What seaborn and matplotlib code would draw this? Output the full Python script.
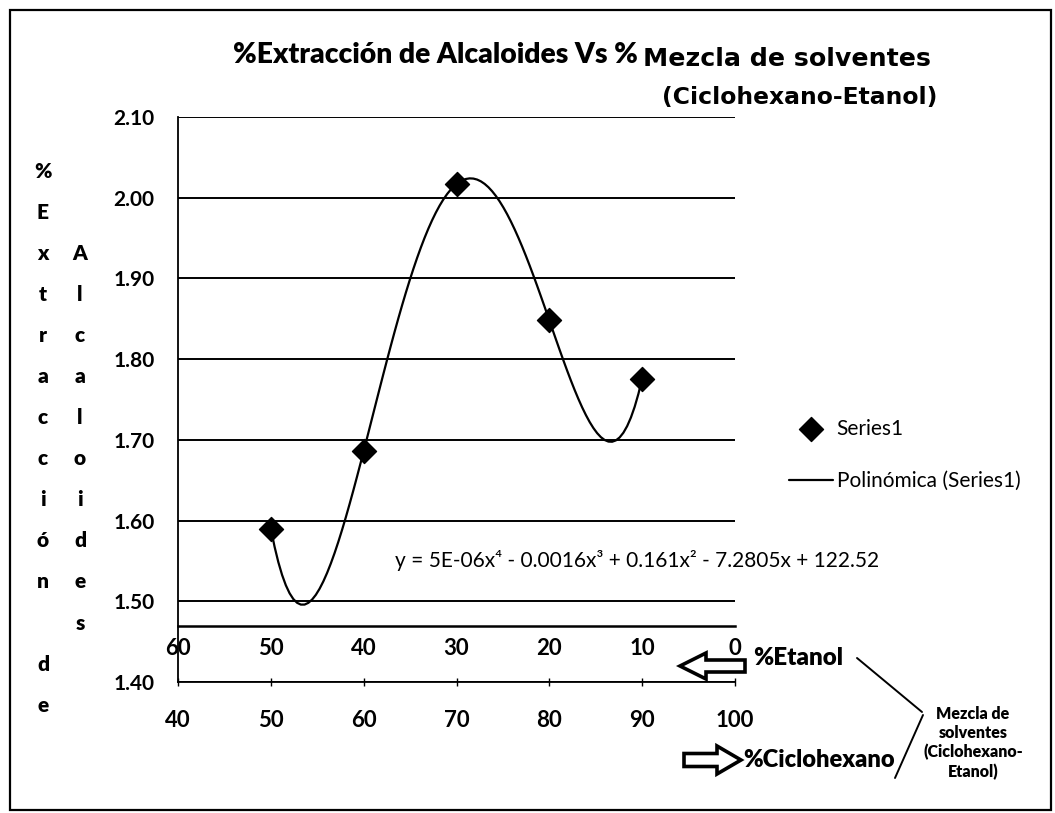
import numpy as np
import pandas as pd
import seaborn as sns
import matplotlib
matplotlib.use("Agg")
import matplotlib.pyplot as plt
from matplotlib.patches import FancyArrow, Rectangle
from matplotlib.lines import Line2D

# ---- data ----
ciclohexano = [50, 60, 70, 80, 90]                 # % Ciclohexano
extraccion = [1.590, 1.686, 2.017, 1.848, 1.776]   # % Extracción de alcaloides
etanol_ticks = [60, 50, 40, 30, 20, 10, 0]
ciclo_ticks = [40, 50, 60, 70, 80, 90, 100]
y_ticks = [1.40, 1.50, 1.60, 1.70, 1.80, 1.90, 2.00, 2.10]
series_label = "Series1"
trend_label = "Polinómica (Series1)"
equation = "y = 5E-06x⁴ - 0.0016x³ + 0.161x² - 7.2805x + 122.52"

sns.set_theme(style="white")
FONT = ["Lato", "DejaVu Sans"]
WIDE = ["DejaVu Sans"]
plt.rcParams["font.family"] = FONT
for k in ["text.color", "axes.labelcolor", "xtick.color", "ytick.color",
          "axes.edgecolor"]:
    plt.rcParams[k] = "black"

W, H = 1055, 813
fig = plt.figure(figsize=(W / 100, H / 100), dpi=100)
renderer = fig.canvas.get_renderer()


def fx(x):
    return x / W


def fy(y):
    return 1 - y / H


def P(x, y):
    return (x / 100, (H - y) / 100)


def fit(txt, x0, x1, y, va="baseline", **kw):
    t = fig.text(fx(x0), fy(y), txt, ha="left", va=va, fontsize=20, **kw)
    w = t.get_window_extent(renderer).width
    t.set_fontsize(20 * (x1 - x0) / w)
    return t


ax = fig.add_axes([fx(178), fy(682), fx(735) - fx(178), fy(117) - fy(682)])
df = pd.DataFrame({"x": ciclohexano, "y": extraccion})

sns.regplot(data=df, x="x", y="y", order=4, ci=None, scatter=False, ax=ax,
            truncate=True, label=trend_label,
            line_kws=dict(color="black", lw=1.6))
sns.scatterplot(data=df, x="x", y="y", marker="D", s=150, color="black",
                edgecolor="black", ax=ax, zorder=5, label=series_label)

ax.set_xlim(40, 100)
ax.set_ylim(1.40, 2.10)
ax.set_xticks(ciclo_ticks)
ax.set_yticks(y_ticks)
ax.set_yticklabels([f"{v:.2f}" for v in y_ticks])
ax.set_xlabel("")
ax.set_ylabel("")
ax.yaxis.grid(True, color="black", lw=1.4)
ax.xaxis.grid(False)
for s in ["top", "right"]:
    ax.spines[s].set_visible(False)
for s in ["left", "bottom"]:
    ax.spines[s].set_visible(True)
    ax.spines[s].set_color("black")
    ax.spines[s].set_linewidth(1.3)
ax.tick_params(axis="x", direction="inout", length=6, width=1, color="black",
               pad=17, labelsize=16)
ax.tick_params(axis="y", direction="out", length=5, width=1, color="black",
               pad=12, labelsize=15)
for lab in ax.get_xticklabels() + ax.get_yticklabels():
    lab.set_fontweight("bold")

h, l = ax.get_legend_handles_labels()
if ax.get_legend() is not None:
    ax.get_legend().remove()

# secondary %Etanol axis, drawn inside the plot
ax2 = ax.twiny()
ax2.set_xlim(60, 0)
ax2.set_xticks(etanol_ticks)
for s in ["top", "right", "left"]:
    ax2.spines[s].set_visible(False)
ax2.spines["bottom"].set_visible(True)
ax2.spines["bottom"].set_position(("data", 1.47))
ax2.spines["bottom"].set_color("black")
ax2.spines["bottom"].set_linewidth(1.8)
ax2.xaxis.set_ticks_position("bottom")
ax2.tick_params(axis="x", length=0, pad=9, labelsize=16)
for lab in ax2.get_xticklabels():
    lab.set_fontweight("bold")
ax2.grid(False)

# title
fit("%Extracción de Alcaloides Vs %", 233, 637, 63, weight="heavy")
fit("Mezcla de solventes", 643, 930, 66, weight="bold", family=WIDE)
fit("(Ciclohexano-Etanol)", 662, 937, 104, weight="bold", family=WIDE)

# stacked vertical y-label
col1 = ["%", "E", "x", "t", "r", "a", "c", "c", "i", "ó", "n", "", "d", "e"]
col2 = ["A", "l", "c", "a", "l", "o", "i", "d", "e", "s"]
for i, ch in enumerate(col1):
    fig.text(fx(43), fy(171 + 41.1 * i), ch, fontsize=15, weight="heavy",
             ha="center", va="center")
for i, ch in enumerate(col2):
    fig.text(fx(80), fy(171 + 41.1 * (i + 2)), ch, fontsize=15,
             weight="heavy", ha="center", va="center")

# legend
hd = dict(zip(l, h))
fig.legend([hd[series_label], hd[trend_label]], [series_label, trend_label],
           loc="center left", bbox_to_anchor=(fx(770), fy(455)), frameon=False,
           fontsize=15, handlelength=2.1, labelspacing=1.55, handletextpad=0.2)

# equation
fit(equation, 395, 880, 560, va="center")

# arrows and annotations
tr = fig.dpi_scale_trans
x0, y0 = P(745, 666)
x1, _ = P(680, 666)
fig.add_artist(FancyArrow(x0, y0, x1 - x0, 0, width=0.12, head_width=0.26,
                          head_length=0.26, length_includes_head=True,
                          fc="white", ec="black", lw=2.6, transform=tr))
x0, y0 = P(684, 760)
x1, _ = P(741, 760)
fig.add_artist(FancyArrow(x0, y0, x1 - x0, 0, width=0.13, head_width=0.28,
                          head_length=0.24, length_includes_head=True,
                          fc="white", ec="black", lw=2.6, transform=tr))
fit("%Etanol", 753, 843, 658, va="center", weight="heavy")
fit("%Ciclohexano", 743, 895, 760, va="center", weight="heavy")

(a, b), (c, d) = P(857, 658), P(922, 712)
fig.add_artist(Line2D([a, c], [b, d], color="black", lw=1.4, transform=tr))
(a, b), (c, d) = P(923, 715), P(895, 778)
fig.add_artist(Line2D([a, c], [b, d], color="black", lw=1.4, transform=tr))
fig.text(fx(973), fy(743), "Mezcla de\nsolventes\n(Ciclohexano-\nEtanol)",
         fontsize=11.5, weight="heavy", ha="center", va="center",
         linespacing=1.25)

# border
bx, by = P(10, 810)
fig.add_artist(Rectangle((bx, by), 10.41, 8.00, fill=False, ec="black",
                         lw=1.6, transform=tr))

fig.savefig("out.png", dpi=100)
